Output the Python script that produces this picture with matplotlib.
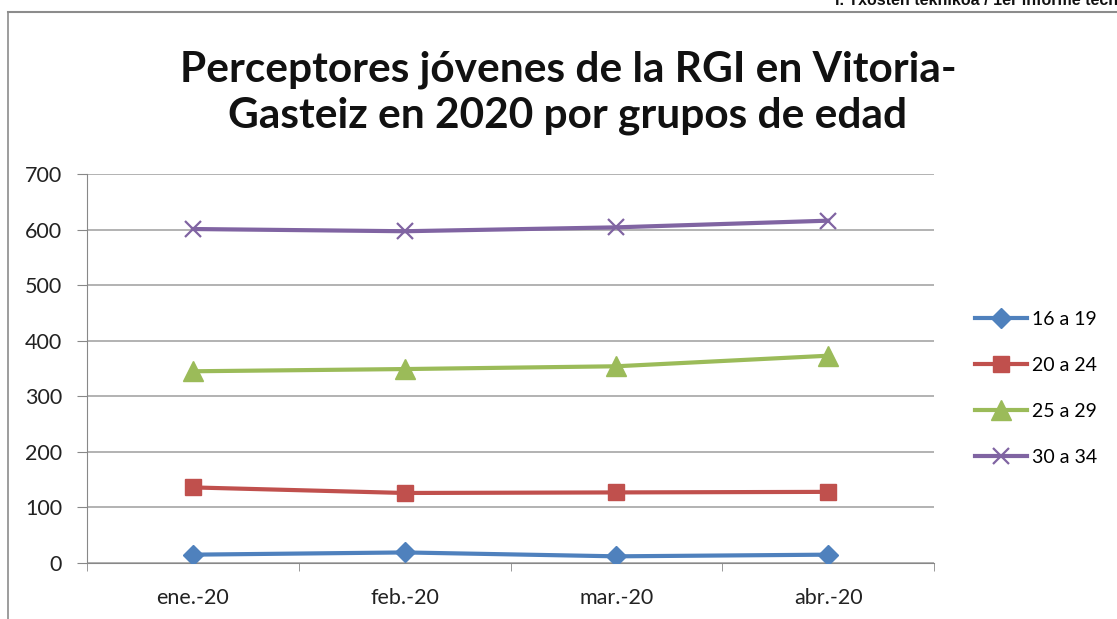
import matplotlib.pyplot as plt
from matplotlib.lines import Line2D

meses = ["ene.-20", "feb.-20", "mar.-20", "abr.-20"]
grupos = ["16 a 19", "20 a 24", "25 a 29", "30 a 34"]
v_16_19 = [15, 19, 12, 15]
v_20_24 = [136, 126, 127, 128]
v_25_29 = [345, 349, 354, 373]
v_30_34 = [601, 597, 604, 616]
yticks = [0, 100, 200, 300, 400, 500, 600, 700]

series = [v_16_19, v_20_24, v_25_29, v_30_34]
colores = ["#4F81BD", "#C0504D", "#9BBB59", "#8064A2"]
marcadores = ["D", "s", "^", "x"]
tam = [10, 12, 14, 12]

W, H = 1117, 619
fig = plt.figure(figsize=(W / 100, H / 100), dpi=100)
ax = fig.add_axes([87 / W, 1 - 563 / H, (934 - 87) / W, (563 - 174) / H])

x = list(range(len(meses)))
for vals, nombre, c, m, s in zip(series, grupos, colores, marcadores, tam):
    if m == "x":
        ax.plot(x, vals, color=c, lw=3, marker=m, ms=s, mew=1.6, label=nombre, zorder=3)
    else:
        ax.plot(x, vals, color=c, lw=3, marker=m, ms=s, label=nombre, zorder=3)

ax.set_xlim(-0.5, 3.5)
ax.set_ylim(0, 700)
ax.set_yticks(yticks)
ax.set_xticks(x)
ax.set_xticklabels(meses, fontsize=15.5, color="#222222")
ax.set_xticks([-0.5, 0.5, 1.5, 2.5, 3.5], minor=True)
ax.tick_params(axis="x", which="major", length=0, pad=18)
ax.tick_params(axis="x", which="minor", length=6, color="#888888")
ax.tick_params(axis="y", length=7, color="#888888", labelsize=15.5, labelcolor="#222222", pad=11)
for t in ax.get_yticklabels():
    t.set_fontfamily("Lato")
for t in ax.get_xticklabels():
    t.set_fontfamily("Lato")

ax.grid(axis="y", color="#A6A6A6", lw=1.2)
ax.set_axisbelow(True)
for lado in ["top", "right"]:
    ax.spines[lado].set_visible(False)
ax.spines["left"].set_color("#888888")
ax.spines["bottom"].set_color("#888888")

fig.text(568 / W, 1 - 93 / H, "Perceptores jóvenes de la RGI en Vitoria-\nGasteiz en 2020 por grupos de edad",
         ha="center", va="center", fontsize=30.5, fontweight="bold", family="Lato",
         linespacing=1.25, color="#111111")

leg = fig.legend(loc="upper left", bbox_to_anchor=(957 / W, 1 - 293 / H), frameon=False,
                 prop={"family": "Lato", "size": 14}, labelspacing=1.5, handlelength=2.7,
                 handletextpad=0.25)

# marco del gráfico y cabecera
fig.add_artist(Line2D([8 / W, 8 / W], [0, 1 - 12 / H], color="#8C8C8C", lw=1.2))
fig.add_artist(Line2D([8 / W, 1], [1 - 12 / H, 1 - 12 / H], color="#8C8C8C", lw=1.5))
fig.text(835 / W, 1 - 5 / H, "I. Txosten teknikoa / 1er informe técnico", ha="left", va="baseline",
         fontsize=11.5, fontweight="bold", family="Liberation Sans", color="#111111")

fig.savefig("out.png", dpi=100)
